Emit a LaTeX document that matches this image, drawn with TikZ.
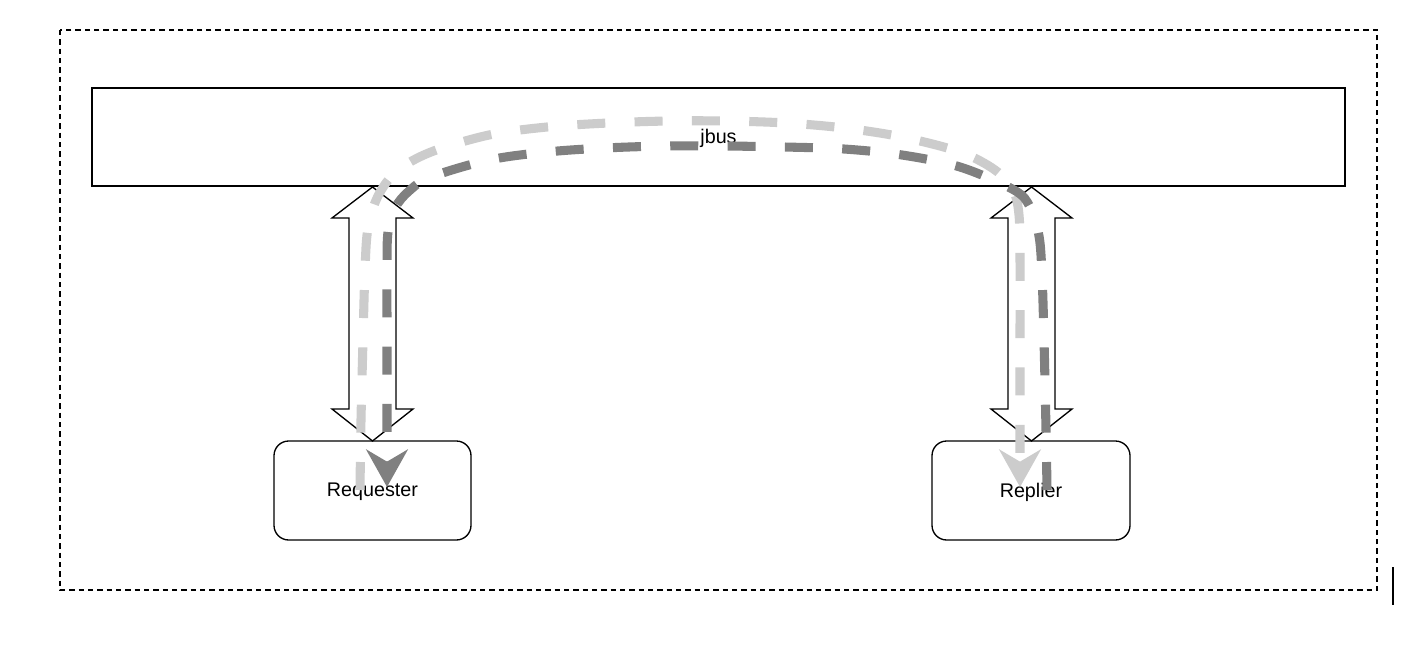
\documentclass[tikz,border=0pt]{standalone}
\usepackage{fontspec}
\setmainfont{Liberation Sans}
\usetikzlibrary{arrows.meta}
\begin{document}
\begin{tikzpicture}[x=0.75pt,y=-0.75pt,
  box/.style={draw=black, line width=1pt, fill=white, inner sep=0pt,
    font=\fontsize{14.8}{17}\selectfont},
  dblarrow/.style={draw=black, line width=1pt, fill=white, line join=miter},
  flow/.style={line width=6.8pt, dash pattern=on 21pt off 22pt, line join=round},
  lightflow/.style={flow, draw={rgb,255:red,204;green,204;blue,204},
    -{Stealth[length=28pt,width=31pt,inset=9pt,fill={rgb,255:red,204;green,204;blue,204}]}},
  darkflow/.style={flow, draw={rgb,255:red,128;green,128;blue,128},
    -{Stealth[length=28pt,width=31pt,inset=9pt,fill={rgb,255:red,128;green,128;blue,128}]}}
]
\useasboundingbox (0,0) rectangle (1408,646);
% outer dashed frame
\draw[line width=1.1pt, dash pattern=on 4pt off 3pt] (60,30) rectangle (1377,590);
% bus
\node[box, minimum width={1253*0.75pt}, minimum height={98*0.75pt}, text depth=0pt] (jbus) at (718.5,137) {};
\node[font=\fontsize{14.8}{17}\selectfont, inner sep=0pt] (jbuslabel) at (718.5,138.5) {jbus};
% end nodes
\node[box, rounded corners=11pt, minimum width={197*0.75pt}, minimum height={99*0.75pt}] (req) at (372.5,490.5) {};
\node[font=\fontsize{14.8}{17}\selectfont, inner sep=0pt] (reqlabel) at (372.5,492) {Requester};
\node[box, rounded corners=11pt, minimum width={198*0.75pt}, minimum height={99*0.75pt}] (rep) at (1031,490.5) {};
\node[font=\fontsize{14.8}{17}\selectfont, inner sep=0pt] (replabel) at (1031,492) {Replier};
% double arrows
\coordinate (la) at (372.5,187);
\coordinate (ra) at (1031.5,187);
\draw[dblarrow] (la) -- ++(40.5,31) -- ++(-17,0) -- ++(0,191) -- ++(17,0) -- (372.5,441)
  -- ++(-40.5,-32) -- ++(17,0) -- ++(0,-191) -- ++(-17,0) -- cycle;
\draw[dblarrow] (ra) -- ++(40.5,31) -- ++(-17,0) -- ++(0,191) -- ++(17,0) -- (1031.5,441)
  -- ++(-40.5,-32) -- ++(17,0) -- ++(0,-191) -- ++(-17,0) -- cycle;
% light flow: Requester -> Replier
\draw[lightflow] plot[smooth, tension=0.55] coordinates {
  (360,490) (361,420) (363,340) (365,270) (368,228) (378,196) (397,171)
  (431,152) (489,135) (547,127) (608,123) (668,121) (726,121) (786,123)
  (844,128) (902,137) (960,152) (995,170) (1013,190) (1019,215)
  (1020,260) (1020,340) (1020,420) (1020,487)};
% dark flow: Replier -> Requester
\draw[darkflow] plot[smooth, tension=0.55] coordinates {
  (1047,490) (1046,430) (1044,340) (1042,275) (1039,236) (1030,207) (1014,190)
  (960,167) (902,155) (844,149) (784,147) (724,146) (666,146) (605,148)
  (547,152) (489,160) (431,177) (409,191) (395,208) (388,232)
  (387,270) (387,340) (387,420) (387,487)};
% small vertical bar
\draw[line width=1.5pt] (1393,567) -- (1393,605);
\end{tikzpicture}
\end{document}
